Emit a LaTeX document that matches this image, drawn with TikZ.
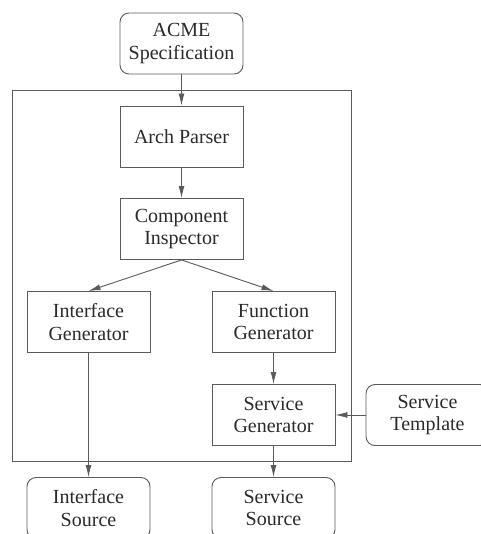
\documentclass[tikz,border=0pt]{standalone}
\usepackage{fontspec}
\setmainfont{Liberation Serif}
\usetikzlibrary{arrows.meta}
\definecolor{ln}{HTML}{5A5A5A}
\definecolor{tx}{HTML}{2A2A2A}
\tikzset{
  box/.style={draw=ln, line width=0.9pt, minimum width=123pt, minimum height=61pt,
    align=center, inner sep=0pt, text=tx, font=\fontsize{20}{22.5}\selectfont},
  rbox/.style={box, rounded corners=9pt},
  arr/.style={draw=ln, line width=0.9pt, -{Latex[length=12pt,width=6pt]}},
}
\begin{document}
\begin{tikzpicture}[x=1pt,y=-1pt]
\useasboundingbox (0,0) rectangle (480,534);
\draw[ln, line width=0.9pt] (12,90) rectangle (351,461);
\node[rbox] (acme) at (181.5,43.5) {ACME\\Specification};
\node[box] (arch) at (181.5,136.5) {Arch Parser};
\node[box] (comp) at (181.5,229) {Component\\Inspector};
\node[box] (ifg) at (88.5,322) {Interface\\Generator};
\node[box] (fng) at (273.5,322) {Function\\Generator};
\node[box] (svg) at (273.5,415) {Service\\Generator};
\node[rbox] (tmpl) at (427.5,415) {Service\\Template};
\node[rbox] (ifs) at (88.5,508) {Interface\\Source};
\node[rbox] (svs) at (273.5,508) {Service\\Source};
\draw[arr] (acme) -- (arch);
\draw[arr] (arch) -- (comp);
\draw[arr] (comp.south) -- (ifg.north);
\draw[arr] (comp.south) -- (fng.north);
\draw[arr] (ifg) -- (ifs);
\draw[arr] (fng) -- (svg);
\draw[arr] (svg) -- (svs);
\draw[arr] (tmpl) -- (svg);
\end{tikzpicture}
\end{document}
